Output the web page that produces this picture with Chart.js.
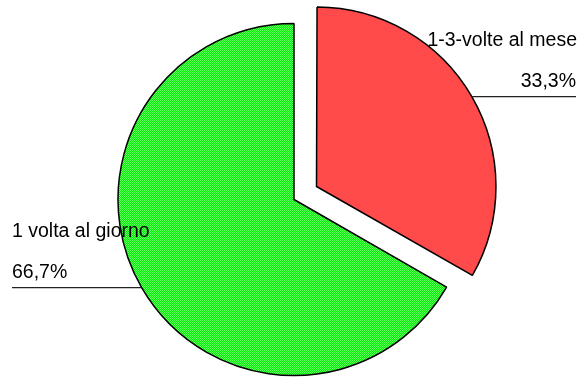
<!DOCTYPE html>
<html>
<head>
<meta charset="utf-8">
<script src="https://cdn.jsdelivr.net/npm/chart.js@4/dist/chart.umd.min.js"></script>
<style>
  html, body { margin: 0; padding: 0; background: #fff; }
  #wrap { width: 582px; height: 378px; position: relative; }
</style>
</head>
<body>
<div id="wrap"><canvas id="c" width="582" height="378"></canvas></div>
<script>
// Frequency categories and their shares (%)
const categories = ['1-3-volte al mese', '1 volta al giorno'];
const shares = [33.3, 66.7];
const shareLabels = ['33,3%', '66,7%'];

// Fine dithered fill: 2x2 checker of a base tone and a lighter tone
function dither(base, light) {
  const c = document.createElement('canvas');
  c.width = 2; c.height = 2;
  const g = c.getContext('2d');
  g.fillStyle = base; g.fillRect(0, 0, 2, 2);
  g.fillStyle = light; g.fillRect(0, 0, 1, 1); g.fillRect(1, 1, 1, 1);
  return g.createPattern(c, 'repeat');
}
const fills = [dither('#ff2222', '#ff7272'), dither('#00ee00', '#66ff66')];

// Leader lines and two-line labels beside each slice
const sliceLabels = {
  id: 'sliceLabels',
  afterDatasetsDraw(chart) {
    const ctx = chart.ctx;
    const meta = chart.getDatasetMeta(0);
    ctx.save();
    ctx.font = '19.5px "Liberation Sans", Arial, sans-serif';
    ctx.fillStyle = '#000';
    ctx.strokeStyle = '#222';
    ctx.lineWidth = 1.2;
    meta.data.forEach((arc, i) => {
      const p = arc.getProps(['x', 'y', 'startAngle', 'endAngle', 'outerRadius'], true);
      const mid = (p.startAngle + p.endAngle) / 2;
      const off = (arc.options.offset || 0) / 4;
      const r = p.outerRadius + off + off * (1 - Math.sin(Math.min(Math.PI, p.endAngle - p.startAngle)));
      const ex = p.x + Math.cos(mid) * r;
      const ey = p.y + Math.sin(mid) * r;
      const right = Math.cos(mid) >= 0;
      const endX = right ? 576 : 12;
      ctx.beginPath();
      ctx.moveTo(ex, ey);
      ctx.lineTo(endX, ey);
      ctx.stroke();
      ctx.textAlign = right ? 'right' : 'left';
      ctx.textBaseline = 'alphabetic';
      ctx.fillText(shareLabels[i], endX, ey - 10);
      ctx.fillText(categories[i], endX + (right ? 1 : 0), ey - 51);
    });
    ctx.restore();
  }
};

new Chart(document.getElementById('c'), {
  type: 'pie',
  data: {
    labels: categories,
    datasets: [{
      data: shares,
      backgroundColor: fills,
      borderColor: '#000',
      borderWidth: 1.5,
      offset: [104, 0],
      radius: 176,
      clip: false
    }]
  },
  options: {
    responsive: false,
    animation: false,
    layout: { padding: { left: 6, right: 0, top: 21, bottom: 0 } },
    plugins: {
      legend: { display: false },
      tooltip: { enabled: false }
    },
    events: []
  },
  plugins: [sliceLabels]
});
</script>
</body>
</html>
